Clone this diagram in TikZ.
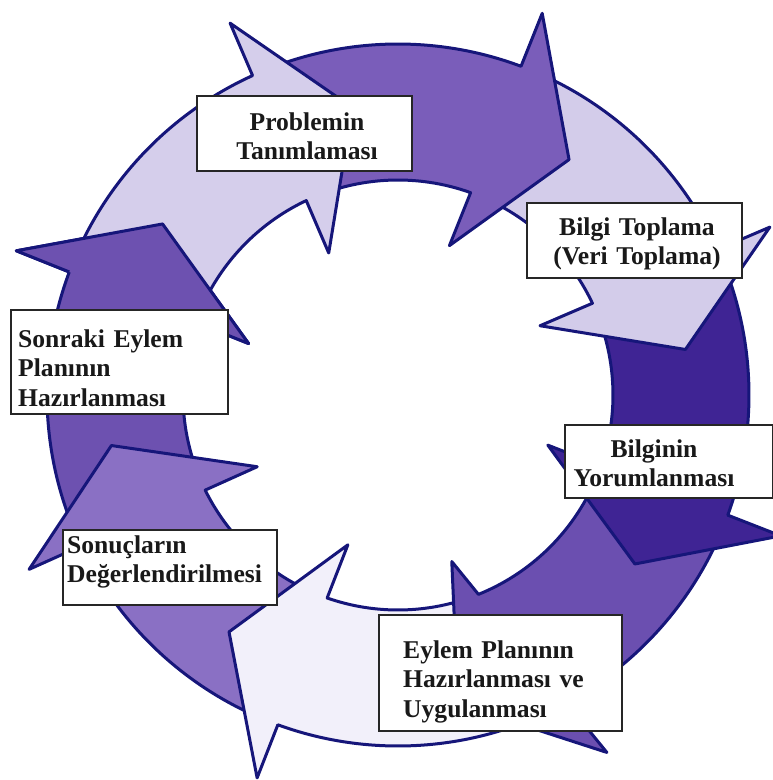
\documentclass[tikz,border=0pt]{standalone}
\usepackage{fontspec}
\setmainfont{Liberation Serif}
\definecolor{outl}{HTML}{16167A}
\definecolor{cProb}{HTML}{D5CEEB}
\definecolor{cTop}{HTML}{7A5DBA}
\definecolor{cBilgi}{HTML}{D3CCEA}
\definecolor{cYorum}{HTML}{3F2494}
\definecolor{cEylem}{HTML}{6B4FB0}
\definecolor{cPale}{HTML}{F2F0FA}
\definecolor{cSonuc}{HTML}{8A70C4}
\definecolor{cSonraki}{HTML}{6D51B0}
\tikzset{
  ringline/.style={draw=outl, line width=3pt, line join=round},
  box/.style={draw=black!85, line width=1.5pt, fill=white, inner sep=0pt},
  lbl/.style={font=\bfseries\fontsize{25.6}{29.5}\selectfont, text=black!90, inner sep=0pt},
}
% #1 colour, #2 tip angle, #3 tail outer angle, #4 tail inner angle
\newcommand\ringarrow[4]{%
  \fill[#1] (#3:351) arc[start angle=#3, end angle={#2+15.48}, radius=351]
    -- ({#2+15.3}:408) -- (#2:291) -- ({#2+17}:158) -- ({#2+16.26}:215)
    arc[start angle={#2+16.26}, end angle=#4, radius=215] -- cycle;
  \draw[ringline] (#3:351) arc[start angle=#3, end angle={#2+15.48}, radius=351]
    -- ({#2+15.3}:408) -- (#2:291) -- ({#2+17}:158) -- ({#2+16.26}:215)
    arc[start angle={#2+16.26}, end angle=#4, radius=215];
}
\begin{document}
\begin{tikzpicture}[x=1pt,y=1pt]
\useasboundingbox (-398,-385) rectangle (375,395);
% arrows, drawn so that each head lies over the next tail
\ringarrow{cSonraki}{144}{205}{205.8}
\ringarrow{cSonuc}{190}{249.5}{250.3}
\ringarrow{cPale}{234.5}{298}{291.4}
% Eylem arrow (head turned differently)
\fill[cEylem] (-20.5:351) arc[start angle=-20.5, end angle=-61.3, radius=351]
  -- (-59.7:414) -- (-79:315) -- (-72.1:175) -- (-68.02:215)
  arc[start angle=-68.02, end angle=-19.7, radius=215] -- cycle;
\draw[ringline] (-20.5:351) arc[start angle=-20.5, end angle=-61.3, radius=351]
  -- (-59.7:414) -- (-79:315) -- (-72.1:175) -- (-68.02:215)
  arc[start angle=-68.02, end angle=-19.7, radius=215];
\ringarrow{cYorum}{-35.5}{24}{24.8}
\ringarrow{cBilgi}{9}{69}{69.8}
\ringarrow{cTop}{54}{114}{114.8}
\ringarrow{cProb}{99}{159}{159.8}
% head of the Sonraki arrow over the tail of the first arrow
\fill[cSonraki] ({144+15.48}:351) -- ({144+15.3}:408) -- (144:291) -- ({144+17}:158) -- ({144+16.26}:215) -- cycle;
\draw[ringline] ({144+15.48}:351) -- ({144+15.3}:408) -- (144:291) -- ({144+17}:158) -- ({144+16.26}:215);
% boxes
\node[box, minimum width=215pt, minimum height=75pt] (b1) at (-93.5,261.5) {};
\node[lbl, align=center, text width=210pt, anchor=base] (t1) at (-91,265) {Problemin\\Tanımlaması};
\node[box, minimum width=215pt, minimum height=75pt] (b2) at (236.5,154.5) {};
\node[lbl, align=center, text width=210pt, anchor=base] (t2) at (239,160) {Bilgi Toplama\\(Veri Toplama)};
\node[box, minimum width=208pt, minimum height=73pt] (b3) at (271,-66.5) {};
\node[lbl, align=center, text width=190pt, anchor=base] (t3) at (256,-62) {Bilginin\\Yorumlanması};
\node[box, minimum width=243pt, minimum height=116pt] (b4) at (102.5,-278) {};
\node[lbl, align=left, text width=215pt, anchor=base west] (t4) at (5,-263) {Eylem Planının\\Hazırlanması ve\\Uygulanması};
\node[box, minimum width=214pt, minimum height=75pt] (b5) at (-228,-172.5) {};
\node[lbl, align=left, text width=208pt, anchor=base west] (t5) at (-331,-158) {Sonuçların\\Değerlendirilmesi};
\node[box, minimum width=217pt, minimum height=104pt] (b6) at (-278.5,33) {};
\node[lbl, align=left, text width=208pt, anchor=base west] (t6) at (-380,48) {Sonraki Eylem\\Planının\\Hazırlanması};
\end{tikzpicture}
\end{document}
